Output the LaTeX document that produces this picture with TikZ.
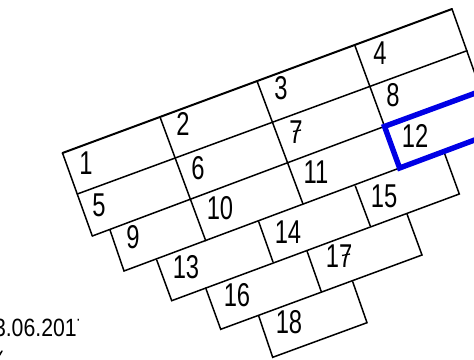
\documentclass[tikz,border=0pt]{standalone}
\usepackage{fontspec}
\setmainfont[FakeStretch=0.72]{Liberation Sans}
\newfontfamily\stampfont[FakeStretch=0.85]{Liberation Sans}
\tikzset{
  wire/.style={draw=black,line width=1.5pt,line cap=round,line join=miter},
  topwire/.style={wire,line width=2pt},
  bar/.style={draw=black,line width=1.3pt},
  hilite/.style={draw=blue!90!black,line width=5.4pt,line join=miter},
  num/.style={inner sep=0pt,font=\fontsize{33}{33}\selectfont},
  stamp/.style={inner sep=0pt,anchor=base west,font=\stampfont\fontsize{25}{25}\selectfont},
}
\begin{document}
\begin{tikzpicture}[x=1pt,y=-1pt]
\useasboundingbox (0,0) rectangle (474,359);
\clip (0,0) rectangle (474,359);
% corners
\coordinate (a0) at (62.5,153);
\coordinate (a1) at (160,117);
\coordinate (a2) at (257,81);
\coordinate (a3) at (354.7,45);
\coordinate (a4) at (452,9);
\coordinate (b0) at (77.3,194);
\coordinate (b4) at (467,50.7);
\coordinate (b5) at (480,88);
\coordinate (c0) at (92.3,236);
\coordinate (c3) at (384.5,126.4);
\coordinate (c4) at (481,91);
\coordinate (c9) at (110,230);
\coordinate (d9) at (124,271);
\coordinate (d1) at (205.7,240.7);
\coordinate (d2) at (303,204);
\coordinate (d3) at (399.6,168);
\coordinate (d4) at (496,132);
\coordinate (d7) at (156.7,260);
\coordinate (e7) at (171.7,300.7);
\coordinate (d8) at (258.7,221.7);
\coordinate (e8) at (273,262);
\coordinate (d5) at (355.3,186);
\coordinate (e5) at (370.3,226);
\coordinate (d6) at (444.4,153);
\coordinate (e6) at (459.3,194);
\coordinate (f1) at (205.7,288);
\coordinate (g1) at (220.7,329.3);
\coordinate (f2) at (307,251);
\coordinate (g2) at (321.3,291.7);
\coordinate (f3) at (407,214);
\coordinate (g3) at (422,255);
\coordinate (h1) at (258.7,316);
\coordinate (i1) at (272.7,357.3);
\coordinate (h2) at (352.7,281.7);
\coordinate (i2) at (367,322.7);
\coordinate (s1) at (-1,356);
\coordinate (s2) at (2,351);
% labels
\node[num] (n1) at (86,163) {1};
\node[num] (n2) at (183,124) {2};
\node[num] (n3) at (281,88) {3};
\node[num] (n4) at (380,53) {4};
\node[num] (n5) at (99,205) {5};
\node[num] (n6) at (198,168) {6};
\node[num] (n7) at (296,132) {7};
\node[num] (n8) at (393,95) {8};
\node[num] (n9) at (133,237) {9};
\node[num] (n10) at (220,208) {10};
\node[num] (n11) at (316,172) {11};
\node[num] (n12) at (415,136) {12};
\node[num] (n13) at (186,267) {13};
\node[num] (n14) at (288,232) {14};
\node[num] (n15) at (384,196) {15};
\node[num] (n16) at (237,295) {16};
\node[num] (n17) at (339,256) {17};
\node[num] (n18) at (289,322) {18};
\begin{scope}
\clip (0,300) rectangle (78,345);
\node[stamp] (date) at (-18,336.5) {03.06.2017};
\end{scope}
\draw[bar] ([xshift=-3pt,yshift=0.5pt]n7.center) -- ([xshift=5pt,yshift=2pt]n7.center);
\draw[bar] ([xshift=3pt,yshift=0.5pt]n17.center) -- ([xshift=11pt,yshift=2pt]n17.center);
\draw[wire] (s1) -- (s2);
% grid
\draw[topwire] (a0) -- (a4);
\draw[wire] (b0) -- (b4);
\draw[wire] (c0) -- (c3);
\draw[wire] (a0) -- (c0);
\draw[wire] (a1) -- (d1);
\draw[wire] (a2) -- (d2);
\draw[wire] (a3) -- (c3);
\draw[wire] (a4) -- (b5);
\draw[wire] (c9) -- (d9) -- (d3);
\draw[wire] (d7) -- (e7) -- (e6) -- (d6);
\draw[wire] (d8) -- (e8);
\draw[wire] (d5) -- (e5);
\draw[wire] (f1) -- (g1) -- (g3) -- (f3);
\draw[wire] (f2) -- (g2);
\draw[wire] (h1) -- (i1) -- (i2) -- (h2);
\draw[hilite] (c4) -- (c3) -- (d3) -- (d4);
\end{tikzpicture}
\end{document}
